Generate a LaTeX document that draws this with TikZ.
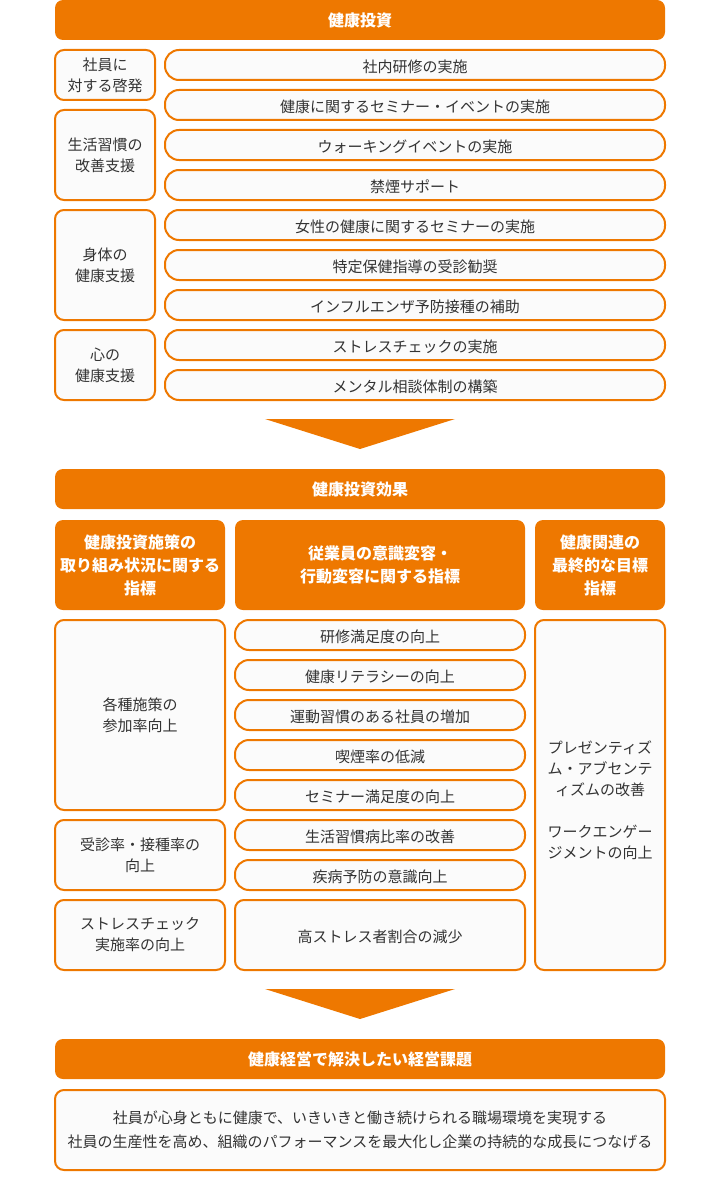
\documentclass[tikz,border=0pt]{standalone}
\usepackage{fontspec}
\setmainfont{Noto Sans CJK JP}
\definecolor{kenko}{HTML}{EE7800}
\definecolor{boxbg}{HTML}{FBFBFB}
\definecolor{txtgray}{HTML}{333333}
\tikzset{
  hdr/.style={fill=kenko, rounded corners=8pt, text=white, align=center, inner sep=0pt,
    font=\bfseries\fontsize{16}{23}\selectfont},
  catbox/.style={draw=kenko, line width=2pt, fill=boxbg, rounded corners=9pt, align=center,
    inner sep=0pt, text=txtgray, font=\fontsize{15}{21}\selectfont,
    execute at begin node={\rule{0pt}{17pt}}},
  itembox/.style={catbox, rounded corners=14pt},
}
\begin{document}
\begin{tikzpicture}[x=1pt,y=-1pt]
        \useasboundingbox (0,0) rectangle (720,1180);
        % health investment
        \node[hdr, minimum width=610pt, minimum height=40pt] (invest) at (360,20) {健康投資};
        \node[catbox, minimum width=100pt, minimum height=50pt] (keihatsu) at (105,75) {社員に\\対する啓発};
        \node[catbox, minimum width=100pt, minimum height=90pt] (seikatsu) at (105,155) {生活習慣の\\改善支援};
        \node[catbox, minimum width=100pt, minimum height=110pt] (shintai) at (105,265) {身体の\\健康支援};
        \node[catbox, minimum width=100pt, minimum height=70pt] (kokoro) at (105,365) {心の\\健康支援};
        \node[itembox, minimum width=500pt, minimum height=30pt] (kenshu) at (415,65) {社内研修の実施};
        \node[itembox, minimum width=500pt, minimum height=30pt] (seminar) at (415,105) {健康に関するセミナー・イベントの実施};
        \node[itembox, minimum width=500pt, minimum height=30pt] (walking) at (415,145) {ウォーキングイベントの実施};
        \node[itembox, minimum width=500pt, minimum height=30pt] (kinen) at (415,185) {禁煙サポート};
        \node[itembox, minimum width=500pt, minimum height=30pt] (josei) at (415,225) {女性の健康に関するセミナーの実施};
        \node[itembox, minimum width=500pt, minimum height=30pt] (hoken) at (415,265) {特定保健指導の受診勧奨};
        \node[itembox, minimum width=500pt, minimum height=30pt] (flu) at (415,305) {インフルエンザ予防接種の補助};
        \node[itembox, minimum width=500pt, minimum height=30pt] (stress) at (415,345) {ストレスチェックの実施};
        \node[itembox, minimum width=500pt, minimum height=30pt] (mental) at (415,385) {メンタル相談体制の構築};
        \fill[kenko] (265,419) -- (455,419) -- (360,449) -- cycle;
        % effects
        \node[hdr, minimum width=610pt, minimum height=40pt] (effect) at (360,489) {健康投資効果};
        \node[hdr, minimum width=170pt, minimum height=90pt] (shisaku) at (140,565) {健康投資施策の\\取り組み状況に関する\\指標};
        \node[hdr, minimum width=290pt, minimum height=90pt] (ishiki) at (380,565) {従業員の意識変容・\\行動変容に関する指標};
        \node[hdr, minimum width=130pt, minimum height=90pt] (saishu) at (600,565) {健康関連の\\最終的な目標\\指標};
        \node[catbox, minimum width=170pt, minimum height=190pt] (sanka) at (140,715) {各種施策の\\参加率向上};
        \node[catbox, minimum width=170pt, minimum height=70pt] (jushin) at (140,855) {受診率・接種率の\\向上};
        \node[catbox, minimum width=170pt, minimum height=70pt] (jisshi) at (140,935) {ストレスチェック\\実施率の向上};
        \node[itembox, minimum width=290pt, minimum height=30pt] (manzoku) at (380,635) {研修満足度の向上};
        \node[itembox, minimum width=290pt, minimum height=30pt] (literacy) at (380,675) {健康リテラシーの向上};
        \node[itembox, minimum width=290pt, minimum height=30pt] (undo) at (380,715) {運動習慣のある社員の増加};
        \node[itembox, minimum width=290pt, minimum height=30pt] (kitsuen) at (380,755) {喫煙率の低減};
        \node[itembox, minimum width=290pt, minimum height=30pt] (semimanzoku) at (380,795) {セミナー満足度の向上};
        \node[itembox, minimum width=290pt, minimum height=30pt] (byohi) at (380,835) {生活習慣病比率の改善};
        \node[itembox, minimum width=290pt, minimum height=30pt] (yobo) at (380,875) {疾病予防の意識向上};
        \node[catbox, minimum width=290pt, minimum height=70pt] (kostress) at (380,935) {高ストレス者割合の減少};
        \node[catbox, minimum width=130pt, minimum height=350pt] (presen) at (600,795) {\rule{0pt}{23pt}プレゼンティズ\\ム・アブセンテ\\ィズムの改善\\[21pt]ワークエンゲー\\ジメントの向上};
        \fill[kenko] (265,989) -- (455,989) -- (360,1019) -- cycle;
        % management issues
        \node[hdr, minimum width=610pt, minimum height=40pt] (kadai) at (360,1059) {健康経営で解決したい経営課題};
        \node[catbox, minimum width=610pt, minimum height=80pt, font=\fontsize{15}{24}\selectfont] (goal) at (360,1130) {社員が心身ともに健康で、いきいきと働き続けられる職場環境を実現する\\社員の生産性を高め、組織のパフォーマンスを最大化し企業の持続的な成長につなげる};
    \end{tikzpicture}
\end{document}
